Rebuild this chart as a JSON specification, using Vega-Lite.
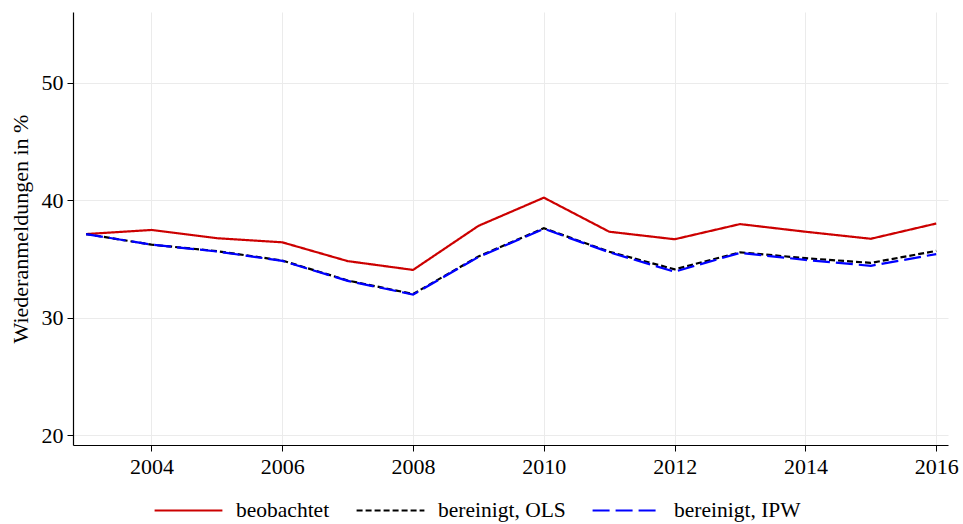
{
  "$schema": "https://vega.github.io/schema/vega-lite/v6.json",
  "autosize": "none",
  "width": 875,
  "height": 433,
  "padding": {"left": 73, "top": 12, "right": 15, "bottom": 79},
  "background": "white",
  "config": {
    "view": {"stroke": null},
    "font": "Liberation Serif",
    "axis": {
      "labelFont": "Liberation Serif",
      "titleFont": "Liberation Serif",
      "labelFontSize": 22,
      "titleFontSize": 22,
      "titleFontWeight": "normal",
      "labelColor": "black",
      "titleColor": "black",
      "domainColor": "black",
      "tickColor": "black",
      "gridColor": "#ebebeb",
      "gridWidth": 1,
      "tickSize": 6,
      "domainWidth": 1.2
    }
  },
  "data": {
    "values": [
      {"year": 2003, "series": "beobachtet", "value": 37.1},
      {"year": 2004, "series": "beobachtet", "value": 37.45},
      {"year": 2005, "series": "beobachtet", "value": 36.75},
      {"year": 2006, "series": "beobachtet", "value": 36.4},
      {"year": 2007, "series": "beobachtet", "value": 34.8},
      {"year": 2008, "series": "beobachtet", "value": 34.05},
      {"year": 2009, "series": "beobachtet", "value": 37.8},
      {"year": 2010, "series": "beobachtet", "value": 40.2},
      {"year": 2011, "series": "beobachtet", "value": 37.3},
      {"year": 2012, "series": "beobachtet", "value": 36.66},
      {"year": 2013, "series": "beobachtet", "value": 37.95},
      {"year": 2014, "series": "beobachtet", "value": 37.3},
      {"year": 2015, "series": "beobachtet", "value": 36.7},
      {"year": 2016, "series": "beobachtet", "value": 38.0},
      {"year": 2003, "series": "bereinigt, OLS", "value": 37.1},
      {"year": 2004, "series": "bereinigt, OLS", "value": 36.2},
      {"year": 2005, "series": "bereinigt, OLS", "value": 35.65},
      {"year": 2006, "series": "bereinigt, OLS", "value": 34.85},
      {"year": 2007, "series": "bereinigt, OLS", "value": 33.15},
      {"year": 2008, "series": "bereinigt, OLS", "value": 32.0},
      {"year": 2009, "series": "bereinigt, OLS", "value": 35.2},
      {"year": 2010, "series": "bereinigt, OLS", "value": 37.6},
      {"year": 2011, "series": "bereinigt, OLS", "value": 35.6},
      {"year": 2012, "series": "bereinigt, OLS", "value": 34.1},
      {"year": 2013, "series": "bereinigt, OLS", "value": 35.55},
      {"year": 2014, "series": "bereinigt, OLS", "value": 35.05},
      {"year": 2015, "series": "bereinigt, OLS", "value": 34.65},
      {"year": 2016, "series": "bereinigt, OLS", "value": 35.67},
      {"year": 2003, "series": "bereinigt, IPW", "value": 37.1},
      {"year": 2004, "series": "bereinigt, IPW", "value": 36.2},
      {"year": 2005, "series": "bereinigt, IPW", "value": 35.62},
      {"year": 2006, "series": "bereinigt, IPW", "value": 34.82},
      {"year": 2007, "series": "bereinigt, IPW", "value": 33.12},
      {"year": 2008, "series": "bereinigt, IPW", "value": 31.95},
      {"year": 2009, "series": "bereinigt, IPW", "value": 35.15},
      {"year": 2010, "series": "bereinigt, IPW", "value": 37.55},
      {"year": 2011, "series": "bereinigt, IPW", "value": 35.55},
      {"year": 2012, "series": "bereinigt, IPW", "value": 33.9},
      {"year": 2013, "series": "bereinigt, IPW", "value": 35.5},
      {"year": 2014, "series": "bereinigt, IPW", "value": 34.9},
      {"year": 2015, "series": "bereinigt, IPW", "value": 34.4},
      {"year": 2016, "series": "bereinigt, IPW", "value": 35.4}
    ]
  },
  "mark": {"type": "line", "strokeWidth": 2.2, "clip": true},
  "encoding": {
    "x": {
      "field": "year",
      "type": "quantitative",
      "scale": {"domain": [2002.8, 2016.18], "nice": false, "zero": false},
      "axis": {"values": [2004, 2006, 2008, 2010, 2012, 2014, 2016], "format": "d", "title": null, "labelPadding": 5, "labelFlush": false}
    },
    "y": {
      "field": "value",
      "type": "quantitative",
      "scale": {"domain": [19.15, 56], "nice": false, "zero": false},
      "axis": {"values": [20, 30, 40, 50], "title": "Wiederanmeldungen in %", "labelPadding": 4, "titlePadding": 9}
    },
    "color": {
      "field": "series",
      "type": "nominal",
      "sort": ["beobachtet", "bereinigt, OLS", "bereinigt, IPW"],
      "scale": {"domain": ["beobachtet", "bereinigt, OLS", "bereinigt, IPW"], "range": ["#cc0000", "#000000", "#0000ff"]},
      "legend": {
        "title": null,
        "orient": "none",
        "legendX": 80,
        "legendY": 463,
        "direction": "horizontal",
        "symbolType": "stroke",
        "symbolSize": 4600,
        "symbolStrokeWidth": 2.2,
        "labelFont": "Liberation Serif",
        "labelFontSize": 21.5,
        "labelColor": "black",
        "labelOffset": 12,
        "columnPadding": 22,
        "labelLimit": 300
      }
    },
    "strokeDash": {
      "field": "series",
      "type": "nominal",
      "sort": ["beobachtet", "bereinigt, OLS", "bereinigt, IPW"],
      "scale": {"domain": ["beobachtet", "bereinigt, OLS", "bereinigt, IPW"], "range": [[1, 0], [6, 3], [17, 6]]},
      "legend": null
    },
    "order": {"field": "year"}
  }
}
